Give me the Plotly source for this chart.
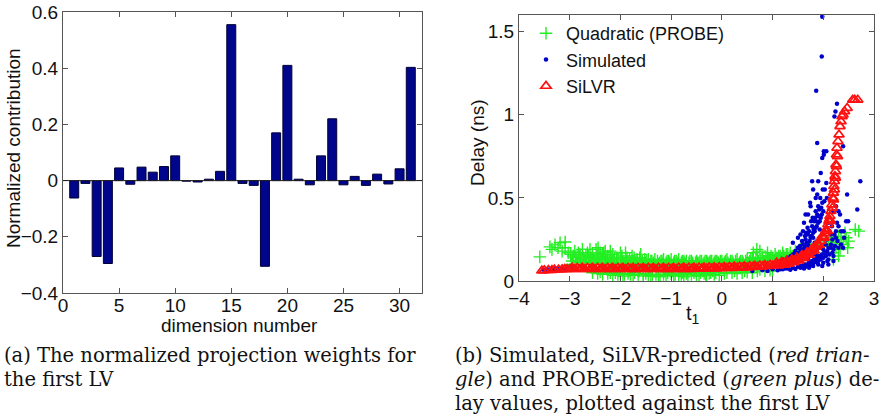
import plotly.graph_objects as go

# ---------------- data: left panel ----------------
dims = list(range(1, 32))
weights = [-0.062, -0.010, -0.270, -0.295, 0.045, -0.013, 0.048, 0.030, 0.050, 0.088,
           -0.002, -0.005, 0.005, 0.033, 0.555, -0.010, -0.017, -0.305, 0.170, 0.410,
           0.005, -0.015, 0.088, 0.220, -0.015, 0.015, -0.017, 0.023, -0.012, 0.042, 0.403]
left_xticks = [0, 5, 10, 15, 20, 25, 30]
left_yticks = [-0.4, -0.2, 0, 0.2, 0.4, 0.6]

# ---------------- data: right panel (t1, delay) ----------------
green_pts = [
    (-3.59, 0.145), (-3.39, 0.205), (-3.29, 0.217), (-3.19, 0.23), (-3.09, 0.235), (-3.09, 0.2),
    (-3.23, 0.2), (-3.03, 0.17), (-3.15, 0.18), (-3.35, 0.19), (-2.44, 0.2), (-2.6, 0.19),
    (-2.3, 0.18), (-1.9, 0.17), (-1.6, 0.16), (-2.0, 0.17), (-2.2, 0.18),
    (-2.98, 0.16), (-2.95, 0.12), (-2.9, 0.18), (-2.88, 0.14), (-2.85, 0.11), (-2.8, 0.16),
    (-2.78, 0.13), (-2.75, 0.19), (-2.7, 0.12), (-2.68, 0.15), (-2.65, 0.17), (-2.6, 0.11),
    (-2.58, 0.14), (-2.55, 0.16), (-2.5, 0.12), (-2.48, 0.19), (-2.45, 0.15), (-2.42, 0.1),
    (-2.4, 0.17), (-2.38, 0.13),
    (-2.35, 0.16), (-2.32, 0.11), (-2.3, 0.14), (-2.27, 0.09), (-2.25, 0.15), (-2.2, 0.12),
    (-2.18, 0.1), (-2.15, 0.16), (-2.12, 0.13), (-2.1, 0.05), (-2.08, 0.11), (-2.05, 0.14),
    (-2.0, 0.1), (-1.97, 0.15), (-1.95, 0.12), (-1.92, 0.04), (-1.9, 0.11), (-1.87, 0.14),
    (-1.85, 0.09), (-1.82, 0.13), (-1.8, 0.1), (-1.77, 0.15), (-1.75, 0.12), (-1.72, 0.05),
    (-1.7, 0.11), (-1.67, 0.13), (-1.65, 0.09), (-1.62, 0.14), (-1.6, 0.1), (-1.57, 0.12),
    (-1.55, 0.04), (-1.52, 0.13),
    (-1.5, 0.11), (-1.47, 0.09), (-1.45, 0.13), (-1.42, 0.1), (-1.4, 0.12), (-1.37, 0.04),
    (-1.35, 0.11), (-1.32, 0.13), (-1.3, 0.09), (-1.27, 0.12), (-1.25, 0.1), (-1.22, 0.03),
    (-1.2, 0.12), (-1.17, 0.1), (-1.15, 0.13), (-1.12, 0.09), (-1.1, 0.11), (-1.07, 0.05),
    (-1.05, 0.12), (-1.02, 0.1), (-1.0, 0.13), (-0.97, 0.09), (-0.95, 0.11), (-0.92, 0.04),
    (-0.9, 0.12), (-0.87, 0.1), (-0.85, 0.13), (-0.82, 0.09), (-0.8, 0.11), (-0.77, 0.05),
    (-0.75, 0.12), (-0.72, 0.1), (-0.7, 0.12), (-0.67, 0.03), (-0.65, 0.11), (-0.62, 0.09),
    (-0.6, 0.12), (-0.57, 0.1), (-0.55, 0.05), (-0.52, 0.11),
    (-0.5, 0.12), (-0.47, 0.1), (-0.45, 0.11), (-0.42, 0.05), (-0.4, 0.12), (-0.37, 0.1),
    (-0.35, 0.11), (-0.32, 0.04), (-0.3, 0.12), (-0.27, 0.1), (-0.25, 0.11), (-0.22, 0.05),
    (-0.2, 0.12), (-0.17, 0.1), (-0.15, 0.11), (-0.12, 0.05), (-0.1, 0.12), (-0.07, 0.11),
    (-0.05, 0.1), (0.0, 0.12), (0.05, 0.11), (0.1, 0.13), (0.15, 0.1), (0.2, 0.12),
    (0.25, 0.06), (0.3, 0.13), (0.35, 0.11), (0.4, 0.12), (0.45, 0.06), (0.5, 0.13),
    (0.55, 0.12), (0.6, 0.14), (0.65, 0.11), (0.7, 0.13), (0.75, 0.07), (0.8, 0.14),
    (0.85, 0.12), (0.9, 0.15), (0.95, 0.13), (1.0, 0.14), (1.05, 0.16), (1.1, 0.13),
    (1.15, 0.15), (1.2, 0.17), (1.25, 0.14), (1.3, 0.16), (0.69, 0.19), (0.75, 0.18),
    (0.62, 0.17), (0.9, 0.17), (1.0, 0.06),
    (1.35, 0.17), (1.4, 0.15), (1.45, 0.18), (1.5, 0.16), (1.55, 0.19), (1.6, 0.17),
    (1.65, 0.2), (1.7, 0.18), (1.75, 0.21), (1.8, 0.19), (1.85, 0.22), (1.9, 0.2),
    (1.95, 0.24), (2.0, 0.21),
    (2.05, 0.25), (2.1, 0.22), (2.15, 0.26), (2.19, 0.17), (2.2, 0.24), (2.25, 0.2),
    (2.27, 0.23), (2.3, 0.27), (2.33, 0.19), (2.35, 0.25), (2.4, 0.22), (2.43, 0.29),
    (2.45, 0.26), (2.48, 0.2), (2.5, 0.24), (2.63, 0.31), (2.7, 0.3), (2.3, 0.15), (2.2, 0.13),
    (-2.97, 0.1), (-2.93, 0.15), (-2.87, 0.12), (-2.83, 0.17), (-2.77, 0.1), (-2.73, 0.14),
    (-2.67, 0.11), (-2.63, 0.15), (-2.57, 0.1), (-2.53, 0.13), (-2.47, 0.11), (-2.43, 0.14),
    (-2.37, 0.1), (-2.33, 0.17),
    (-2.28, 0.12), (-2.23, 0.1), (-2.17, 0.14), (-2.13, 0.09), (-2.07, 0.13), (-2.03, 0.06),
    (-1.98, 0.13), (-1.93, 0.1), (-1.88, 0.12), (-1.83, 0.06), (-1.78, 0.12), (-1.73, 0.14),
    (-1.68, 0.1), (-1.63, 0.06), (-1.58, 0.11), (-1.53, 0.1),
    (-1.48, 0.12), (-1.43, 0.06), (-1.38, 0.12), (-1.33, 0.1), (-1.28, 0.06), (-1.23, 0.11),
    (-1.18, 0.12), (-1.13, 0.06), (-1.08, 0.12), (-1.03, 0.11), (-0.98, 0.06), (-0.93, 0.12),
    (-0.88, 0.11), (-0.83, 0.06), (-0.78, 0.12), (-0.73, 0.11), (-0.68, 0.06), (-0.63, 0.12),
    (-0.58, 0.11), (-0.53, 0.06),
    (-0.48, 0.11), (-0.43, 0.12), (-0.38, 0.06), (-0.33, 0.12), (-0.28, 0.11), (-0.23, 0.12),
    (-0.18, 0.06), (-0.13, 0.12), (-0.08, 0.11), (-0.03, 0.12), (0.02, 0.1), (0.07, 0.12),
    (0.12, 0.11), (0.17, 0.12), (0.22, 0.11), (0.27, 0.12), (0.32, 0.1), (0.37, 0.12),
    (0.42, 0.11), (0.47, 0.12),
    (0.52, 0.11), (0.57, 0.13), (0.62, 0.12), (0.67, 0.14), (0.72, 0.12), (0.77, 0.13),
    (0.82, 0.12), (0.87, 0.14), (0.92, 0.13), (0.97, 0.15), (1.02, 0.12), (1.07, 0.14),
    (1.12, 0.15), (1.17, 0.13), (1.22, 0.15), (1.27, 0.16),
    (-2.4, 0.055), (-2.2, 0.05), (-2.0, 0.045), (-1.8, 0.04), (-1.45, 0.035), (-1.15, 0.04),
    (-0.85, 0.035), (-0.6, 0.04), (-0.25, 0.045), (0.1, 0.05), (0.4, 0.05), (0.7, 0.06),
    (-2.55, 0.05), (-2.45, 0.045), (-2.35, 0.04), (-2.25, 0.045), (-2.15, 0.035), (-2.05, 0.04),
    (-1.95, 0.03), (-1.85, 0.045), (-1.75, 0.035), (-1.65, 0.04), (-1.55, 0.03), (-1.5, 0.045),
    (-1.4, 0.03), (-1.3, 0.04), (-1.25, 0.025), (-1.1, 0.035), (-1.0, 0.045), (-0.95, 0.03),
    (-0.8, 0.04), (-0.75, 0.025), (-0.7, 0.045), (-0.5, 0.035), (-0.45, 0.03), (-0.35, 0.045),
    (-0.3, 0.035), (-0.15, 0.04), (-0.05, 0.035), (0.05, 0.045), (0.2, 0.05), (0.3, 0.045),
    (0.5, 0.055), (0.6, 0.05), (0.85, 0.06), (0.95, 0.065),
]

blue_pts = [
    (-3.52, 0.068), (-3.48, 0.062), (-3.45, 0.07), (-3.38, 0.072), (-3.3, 0.07), (-3.25, 0.073),
    (-3.18, 0.072), (-3.12, 0.074), (-3.05, 0.075), (-2.95, 0.074),
    (0.6, 0.06), (0.8, 0.065), (0.9, 0.06), (1.0, 0.07), (1.1, 0.065), (1.2, 0.07),
    (1.3, 0.075), (1.35, 0.068), (1.4, 0.08), (1.45, 0.072), (1.5, 0.085), (1.55, 0.08),
    (1.6, 0.09), (1.62, 0.1), (1.65, 0.085), (1.7, 0.1), (1.72, 0.11), (1.75, 0.095),
    (1.78, 0.12), (1.8, 0.105), (1.82, 0.13), (1.85, 0.115), (1.88, 0.14), (1.9, 0.12),
    (1.92, 0.15), (1.95, 0.13), (1.97, 0.16), (2.0, 0.14), (2.02, 0.17), (2.05, 0.15),
    (2.08, 0.18), (2.1, 0.2), (2.12, 0.16), (2.15, 0.22), (2.18, 0.25), (2.2, 0.19),
    (2.22, 0.28), (2.25, 0.3), (2.28, 0.24), (2.3, 0.33), (1.7, 0.13), (1.85, 0.16),
    (2.0, 0.19), (2.05, 0.22), (2.15, 0.28), (2.2, 0.12), (2.1, 0.1),
    (1.2, 0.13), (1.3, 0.14), (1.4, 0.16), (1.45, 0.18), (1.5, 0.2), (1.55, 0.19),
    (1.6, 0.22), (1.65, 0.25), (1.68, 0.21), (1.7, 0.28), (1.72, 0.3), (1.75, 0.26),
    (1.78, 0.33), (1.8, 0.29), (1.82, 0.36), (1.85, 0.32), (1.88, 0.4), (1.9, 0.35),
    (1.92, 0.43), (1.95, 0.38), (1.98, 0.47), (2.0, 0.42), (1.6, 0.3), (1.5, 0.26),
    (1.62, 0.35), (1.7, 0.4), (1.55, 0.28), (1.4, 0.23), (1.75, 0.45), (1.85, 0.5),
    (1.8, 0.55), (1.9, 0.6), (1.95, 0.65), (2.03, 0.55), (2.07, 0.5), (1.85, 0.42),
    (1.65, 0.4), (1.74, 0.47), (1.88, 0.52), (1.78, 0.6),
    (1.32, 0.12), (1.38, 0.13), (1.42, 0.14), (1.48, 0.15), (1.52, 0.17), (1.58, 0.18),
    (1.63, 0.2), (1.67, 0.23), (1.73, 0.24), (1.77, 0.27), (1.83, 0.3), (1.87, 0.33),
    (1.93, 0.36), (1.97, 0.4), (1.58, 0.24), (1.66, 0.29), (1.76, 0.36), (1.84, 0.38),
    (1.9, 0.45), (1.94, 0.5), (1.99, 0.55), (2.02, 0.48), (1.8, 0.26), (1.7, 0.22),
    (1.6, 0.19), (1.5, 0.16), (1.45, 0.14), (1.35, 0.125),
    (1.25, 0.075), (1.15, 0.07), (1.55, 0.09), (1.65, 0.1), (1.75, 0.11), (1.85, 0.13),
    (1.95, 0.15), (2.05, 0.17), (2.15, 0.2), (2.25, 0.26), (2.3, 0.2), (2.35, 0.22),
    (2.4, 0.3), (2.2, 0.15), (2.1, 0.13), (2.0, 0.11), (1.9, 0.1), (1.8, 0.09),
    (2.27, 0.35), (2.33, 0.4), (2.2, 0.42), (2.25, 0.45),
    (1.26, 0.12), (1.36, 0.15), (1.44, 0.17), (1.54, 0.21), (1.64, 0.27), (1.69, 0.32),
    (1.79, 0.38), (1.81, 0.31), (1.86, 0.36), (1.91, 0.39), (1.96, 0.44), (1.93, 0.31),
    (1.71, 0.19), (1.61, 0.16), (1.57, 0.14), (1.47, 0.12), (1.67, 0.15), (1.77, 0.17),
    (1.87, 0.19), (1.97, 0.21), (2.07, 0.25), (2.12, 0.3), (2.17, 0.33), (1.83, 0.23),
    (1.98, 0.09), (2.08, 0.12), (2.18, 0.17), (2.23, 0.21), (1.72, 0.08), (1.62, 0.075),
    (1.98, 1.59), (1.97, 1.35), (1.86, 1.145), (2.27, 1.066), (2.24, 1.02), (2.22, 0.99),
    (1.88, 0.83), (2.01, 0.76), (2.06, 0.78), (2.39, 0.81), (1.98, 0.74), (2.01, 0.78),
    (2.06, 0.59), (2.73, 0.6), (2.67, 0.43), (2.47, 0.52), (2.45, 0.36), (2.49, 0.36),
    (2.39, 0.2), (2.41, 0.26), (2.1, 0.35), (2.35, 0.3), (2.3, 0.42),
]

red_pts = [
    (-3.55, 0.062), (-3.5, 0.064), (-3.42, 0.066), (-3.35, 0.066), (-3.3, 0.068), (-3.22, 0.068),
    (-3.15, 0.07), (-3.1, 0.071), (-3.05, 0.072),
    (-3.0, 0.071), (-2.95, 0.079), (-2.9, 0.071), (-2.85, 0.079), (-2.8, 0.071), (-2.75, 0.079),
    (-2.7, 0.071), (-2.65, 0.079), (-2.6, 0.071), (-2.55, 0.079), (-2.5, 0.071), (-2.45, 0.079),
    (-2.4, 0.071), (-2.35, 0.079), (-2.3, 0.071), (-2.25, 0.079), (-2.2, 0.071), (-2.15, 0.079),
    (-2.1, 0.071), (-2.05, 0.079), (-2.0, 0.071), (-1.95, 0.079), (-1.9, 0.071), (-1.85, 0.079),
    (-1.8, 0.071), (-1.75, 0.079), (-1.7, 0.071), (-1.65, 0.079), (-1.6, 0.071), (-1.55, 0.079),
    (-1.5, 0.071), (-1.45, 0.079), (-1.4, 0.071), (-1.35, 0.079), (-1.3, 0.071), (-1.25, 0.079),
    (-1.2, 0.071), (-1.15, 0.079), (-1.1, 0.071), (-1.05, 0.079), (-1.0, 0.071), (-0.95, 0.079),
    (-0.9, 0.072), (-0.85, 0.08), (-0.8, 0.072), (-0.75, 0.08), (-0.7, 0.072), (-0.65, 0.08),
    (-0.6, 0.072), (-0.55, 0.08), (-0.5, 0.073), (-0.45, 0.081), (-0.4, 0.073), (-0.35, 0.081),
    (-0.3, 0.074), (-0.25, 0.082), (-0.2, 0.074), (-0.15, 0.082), (-0.1, 0.075), (-0.05, 0.083),
    (0.0, 0.076), (0.05, 0.084), (0.1, 0.077), (0.15, 0.085), (0.2, 0.078), (0.25, 0.086),
    (0.3, 0.079), (0.35, 0.087), (0.4, 0.08), (0.45, 0.088), (0.5, 0.081), (0.55, 0.089),
    (0.6, 0.083), (0.65, 0.091), (0.7, 0.085), (0.75, 0.093), (0.8, 0.087), (0.85, 0.095),
    (0.9, 0.089), (0.95, 0.097), (1.0, 0.092),
    (-2.97, 0.075), (-2.77, 0.075), (-2.57, 0.075), (-2.37, 0.075), (-2.17, 0.075), (-1.97, 0.075),
    (-1.77, 0.075), (-1.57, 0.075), (-1.37, 0.075), (-1.17, 0.075), (-0.97, 0.075), (-0.77, 0.076),
    (-0.57, 0.076), (-0.37, 0.077), (-0.17, 0.078), (0.03, 0.08), (0.23, 0.082), (0.43, 0.084),
    (0.63, 0.087), (0.83, 0.091),
    (1.05, 0.097), (1.1, 0.1), (1.15, 0.102), (1.2, 0.105), (1.25, 0.108), (1.3, 0.112),
    (1.35, 0.116), (1.4, 0.12), (1.45, 0.125), (1.5, 0.13), (1.55, 0.138), (1.6, 0.145),
    (1.65, 0.155), (1.7, 0.165), (1.75, 0.175), (1.8, 0.19), (1.85, 0.205), (1.9, 0.22),
    (1.95, 0.24), (2.0, 0.265), (2.03, 0.285), (2.06, 0.31), (2.09, 0.34), (2.11, 0.36),
    (2.13, 0.39), (2.15, 0.42), (2.17, 0.46), (2.19, 0.5), (2.2, 0.53), (2.21, 0.57),
    (2.22, 0.6), (2.23, 0.63), (2.24, 0.66), (2.25, 0.7), (2.26, 0.76), (2.27, 0.8),
    (2.29, 0.84), (2.31, 0.88), (2.33, 0.93), (2.35, 0.96), (2.37, 0.99), (2.39, 1.0),
    (2.42, 1.02), (2.47, 1.04), (2.58, 1.09), (2.62, 1.09), (2.68, 1.09),
    (1.08, 0.11), (1.18, 0.115), (1.28, 0.122), (1.38, 0.13), (1.48, 0.14), (1.58, 0.155),
    (1.68, 0.172), (1.78, 0.195), (1.88, 0.225), (1.98, 0.27), (2.05, 0.3), (2.12, 0.37),
    (1.12, 0.092), (1.22, 0.097), (1.32, 0.103), (1.42, 0.112), (1.52, 0.122), (1.62, 0.137),
    (1.72, 0.157), (1.82, 0.182), (1.92, 0.215), (2.02, 0.26), (2.08, 0.3), (2.14, 0.36),
    (2.18, 0.44), (2.2, 0.49), (2.22, 0.55), (2.24, 0.62), (2.26, 0.69), (2.28, 0.75),
]

right_xticks = [-4, -3, -2, -1, 0, 1, 2, 3]
right_yticks = [0, 0.5, 1, 1.5]

# ---------------- figure ----------------
W, H = 884, 419
SANS = "Liberation Sans"
SERIF = "DejaVu Serif"
AXC = "#555555"
TXT = "#111111"
FS = 19


def px_x(p):
    return p / W


def px_y(p):
    return 1 - p / H


fig = go.Figure()
fig.add_trace(go.Bar(
    x=dims, y=weights, width=0.8, xaxis="x", yaxis="y", showlegend=False,
    marker=dict(color="#00068c", line=dict(color="#000033", width=1)),
))

gx, gy = zip(*green_pts)
bx, by = zip(*blue_pts)
rx, ry = zip(*red_pts)

fig.add_trace(go.Scatter(
    x=gx, y=gy, mode="markers", name="Quadratic (PROBE)", xaxis="x2", yaxis="y2",
    marker=dict(symbol="cross-thin-open", size=9, color="#22ee22",
                line=dict(width=1.4, color="#22ee22")),
))
fig.add_trace(go.Scatter(
    x=bx, y=by, mode="markers", name="Simulated", xaxis="x2", yaxis="y2",
    marker=dict(symbol="circle", size=4.5, color="#0000cc", line=dict(width=0)),
))
fig.add_trace(go.Scatter(
    x=rx, y=ry, mode="markers", name="SiLVR", xaxis="x2", yaxis="y2",
    marker=dict(symbol="triangle-up-open", size=9, color="#ff1010",
                line=dict(width=1.7, color="#ff1010")),
))

axis_common = dict(
    showline=True, linecolor=AXC, linewidth=1, mirror="ticks", ticks="inside",
    ticklen=5, tickcolor=AXC, showgrid=False, zeroline=False, automargin=False,
    tickfont=dict(family=SANS, size=FS, color=TXT),
)

fig.update_layout(
    width=W, height=H, margin=dict(l=0, r=0, t=0, b=0),
    paper_bgcolor="white", plot_bgcolor="white",
    xaxis=dict(domain=[px_x(63), px_x(422)], anchor="y", range=[0, 32],
               tickmode="array", tickvals=left_xticks, ticklabelstandoff=-5, **axis_common),
    yaxis=dict(domain=[px_y(293), px_y(12)], anchor="x", range=[-0.4, 0.6],
               tickmode="array", tickvals=left_yticks, **axis_common),
    xaxis2=dict(domain=[px_x(519), px_x(874)], anchor="y2", range=[-4, 3],
                tickmode="array", tickvals=right_xticks, **axis_common),
    yaxis2=dict(domain=[px_y(281), px_y(15)], anchor="x2", range=[0, 1.6],
                tickmode="array", tickvals=right_yticks, **axis_common),
    legend=dict(x=px_x(526), y=px_y(15), xanchor="left", yanchor="top",
                bgcolor="rgba(0,0,0,0)", font=dict(family=SANS, size=18, color=TXT),
                itemsizing="trace", tracegroupgap=0),
    showlegend=True,
)

# zero baseline of the bar chart
fig.add_shape(type="line", xref="x", yref="y", x0=0, x1=32, y0=0, y1=0,
              line=dict(color="#222222", width=1), layer="above")

ann = []
ann.append(dict(text="Normalized contribution", x=px_x(13), y=px_y(148), textangle=-90,
                font=dict(family=SANS, size=FS, color=TXT)))
ann.append(dict(text="dimension number", x=px_x(240), y=px_y(325),
                font=dict(family=SANS, size=FS, color=TXT)))
ann.append(dict(text="Delay (ns)", x=px_x(478), y=px_y(142), textangle=-90,
                font=dict(family=SANS, size=FS, color=TXT)))
ann.append(dict(text="t<sub>1</sub>", x=px_x(693), y=px_y(314),
                font=dict(family=SANS, size=20, color=TXT)))

cap_font = dict(family=SERIF, size=19.5, color=TXT)
captions = [
    ("(a) The normalized projection weights for", 2, 355),
    ("the first LV", 2, 379),
    ("(b) Simulated, SiLVR-predicted (<i>red trian-</i>", 453, 355),
    ("<i>gle</i>) and PROBE-predicted (<i>green plus</i>) de-", 453, 379),
    ("lay values, plotted against the first LV", 453, 403),
]
for txt, xx, yy in captions:
    ann.append(dict(text=txt, x=px_x(xx), y=px_y(yy), xanchor="left", font=cap_font))

for a in ann:
    a.setdefault("xanchor", "center")
    a.update(xref="paper", yref="paper", yanchor="middle", showarrow=False)
fig.update_layout(annotations=ann)

fig.write_html("out.html")
